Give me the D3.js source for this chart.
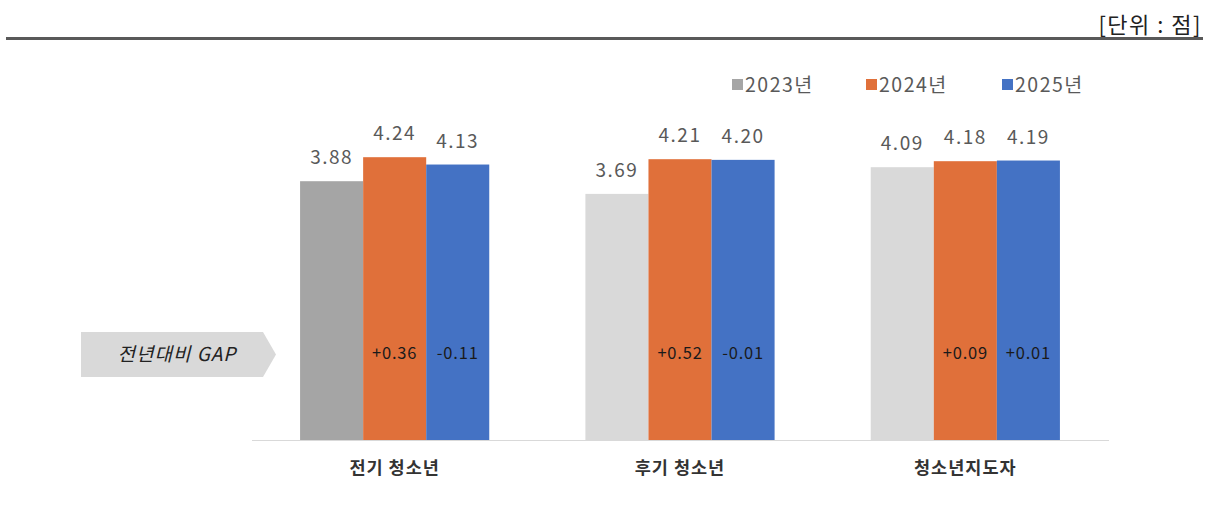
<!DOCTYPE html>
<html>
<head>
<meta charset="utf-8">
<script src="https://cdn.jsdelivr.net/npm/d3@7"></script>
<style>
  body { margin: 0; background: #fff; }
  text { font-family: "Noto Sans CJK KR", "Noto Sans", sans-serif; }
</style>
</head>
<body>
<div id="chart"></div>
<script>
// Data
var categories = ['전기 청소년', '후기 청소년', '청소년지도자'];
var years = ['2023년', '2024년', '2025년'];
var values2023 = [3.88, 3.69, 4.09];
var values2024 = [4.24, 4.21, 4.18];
var values2025 = [4.13, 4.20, 4.19];
var gap2024 = ['+0.36', '+0.52', '+0.09'];
var gap2025 = ['-0.11', '-0.01', '+0.01'];

var width = 1215,
    height = 509;

var colors = { '2023년': '#a5a5a5', '2024년': '#e0703a', '2025년': '#4472c4' };
var lightGray = '#d9d9d9';

var svg = d3.select('#chart')
            .append('svg')
            .attr('width', width)
            .attr('height', height);

// unit text + top rule
svg.append('text')
   .attr('x', 1202)
   .attr('y', 33)
   .attr('text-anchor', 'end')
   .attr('font-size', 22)
   .attr('letter-spacing', 1.5)
   .attr('fill', '#222')
   .text('[단위 : 점]');

svg.append('line')
   .attr('x1', 6).attr('x2', 1203)
   .attr('y1', 38.5).attr('y2', 38.5)
   .attr('stroke', '#595959')
   .attr('stroke-width', 3);

// scales
var x0 = d3.scaleBand()
           .domain(categories)
           .range([252, 1108])
           .paddingInner(0.337)
           .paddingOuter(0.1685);

var x1 = d3.scaleBand()
           .domain(years)
           .range([0, x0.bandwidth()]);

var y = d3.scaleLinear()
          .domain([0, 5])
          .range([440, 106.5]);

// build rows
var rows = categories.map(function(c, i) {
  return {
    cat: c,
    bars: [
      { year: '2023년', value: values2023[i], gap: null, idx: i },
      { year: '2024년', value: values2024[i], gap: gap2024[i], idx: i },
      { year: '2025년', value: values2025[i], gap: gap2025[i], idx: i }
    ]
  };
});

var g = svg.append('g');

var groups = g.selectAll('.grp')
  .data(rows)
  .enter().append('g')
  .attr('class', 'grp')
  .attr('transform', function(d) { return 'translate(' + x0(d.cat) + ',0)'; });

groups.selectAll('rect')
  .data(function(d) { return d.bars; })
  .enter().append('rect')
  .attr('x', function(d) { return x1(d.year); })
  .attr('width', x1.bandwidth())
  .attr('y', function(d) { return y(d.value); })
  .attr('height', function(d) { return y(0) - y(d.value); })
  .attr('fill', function(d) {
    if (d.year === '2023년' && d.idx > 0) return lightGray;
    return colors[d.year];
  });

// value labels
groups.selectAll('.val')
  .data(function(d) { return d.bars; })
  .enter().append('text')
  .attr('class', 'val')
  .attr('x', function(d) { return x1(d.year) + x1.bandwidth() / 2; })
  .attr('y', function(d) { return y(d.value) - 17; })
  .attr('text-anchor', 'middle')
  .attr('font-size', 19)
  .attr('letter-spacing', 1.5)
  .attr('fill', '#595959')
  .text(function(d) { return d.value.toFixed(2); });

// gap labels inside bars
groups.selectAll('.gap')
  .data(function(d) { return d.bars.filter(function(b) { return b.gap; }); })
  .enter().append('text')
  .attr('class', 'gap')
  .attr('x', function(d) { return x1(d.year) + x1.bandwidth() / 2; })
  .attr('y', 359)
  .attr('text-anchor', 'middle')
  .attr('font-size', 16.5)
  .attr('letter-spacing', 0.8)
  .attr('fill', '#1a1a1a')
  .text(function(d) { return d.gap; });

// x axis line
g.append('line')
  .attr('x1', 252).attr('x2', 1109)
  .attr('y1', 440.5).attr('y2', 440.5)
  .attr('stroke', '#d9d9d9')
  .attr('stroke-width', 1);

// category labels
g.selectAll('.cat')
  .data(categories)
  .enter().append('text')
  .attr('class', 'cat')
  .attr('x', function(d) { return x0(d) + x0.bandwidth() / 2; })
  .attr('y', 474)
  .attr('text-anchor', 'middle')
  .attr('font-size', 17.5)
  .attr('letter-spacing', 1)
  .attr('font-weight', 'bold')
  .attr('fill', '#333')
  .text(function(d) { return d; });

// legend
var legendX = [732, 866, 1002];
var legend = svg.selectAll('.legend')
  .data(years)
  .enter().append('g')
  .attr('class', 'legend')
  .attr('transform', function(d, i) { return 'translate(' + legendX[i] + ',79)'; });

legend.append('rect')
  .attr('width', 11)
  .attr('height', 11)
  .attr('fill', function(d) { return colors[d]; });

legend.append('text')
  .attr('x', 13)
  .attr('y', 13)
  .attr('font-size', 19.5)
  .attr('letter-spacing', 1.5)
  .attr('fill', '#595959')
  .text(function(d) { return d; });

// "전년대비 GAP" arrow tag
svg.append('path')
  .attr('d', 'M81,332 L263,332 L276,354.5 L263,377 L81,377 Z')
  .attr('fill', '#d9d9d9');

svg.append('text')
  .attr('x', 177)
  .attr('y', 361)
  .attr('text-anchor', 'middle')
  .attr('font-size', 19)
  .attr('letter-spacing', 1)
  .attr('font-style', 'italic')
  .attr('fill', '#222')
  .text('전년대비 GAP');
</script>
</body>
</html>
